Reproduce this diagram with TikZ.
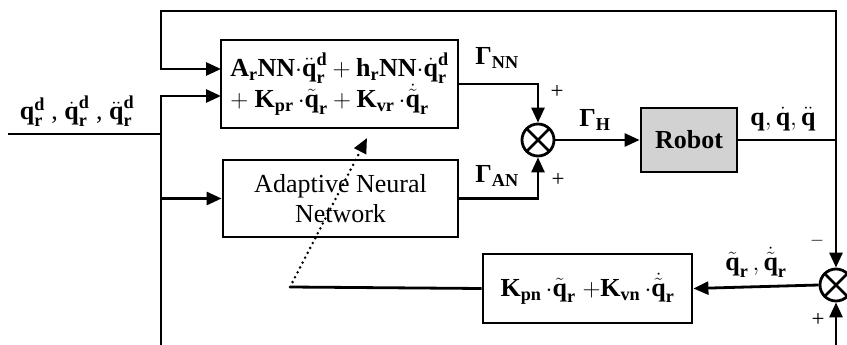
\documentclass[tikz,border=0pt]{standalone}
\usepackage{amsmath}
\usepackage{fontspec}
\setmainfont{Liberation Serif}
\usetikzlibrary{arrows.meta,calc}
\newcommand{\tb}[1]{\text{\bfseries #1}}
\newcommand{\cd}{{\cdot}}
\begin{document}
\begin{tikzpicture}[x=1pt,y=-1pt,
  font=\fontsize{26}{30}\selectfont,
  line width=2.8pt,
  arr/.style={-{Triangle[length=15pt,width=13pt]}},
  blk/.style={draw, rectangle, inner sep=0pt},
  sumj/.style={draw, circle, minimum size=32pt, inner sep=0pt,
    path picture={\draw[line width=2.8pt]
      (path picture bounding box.north west) -- (path picture bounding box.south east)
      (path picture bounding box.north east) -- (path picture bounding box.south west);}},
  lbl/.style={inner sep=0pt},
  sgn/.style={inner sep=0pt, font=\fontsize{23}{26}\selectfont}]
\useasboundingbox (0,0) rectangle (847,345);

% blocks
\node[blk, minimum width=237pt, minimum height=88pt, align=left] (nn) at (339.5,84)
  {$\tb{A}_{\tb{r}}\tb{NN}\cd\ddot{\tb{q}}_{\tb{r}}^{\tb{d}} + \tb{h}_{\tb{r}}\tb{NN}\cd\dot{\tb{q}}_{\tb{r}}^{\tb{d}}$\\
   $+\ \tb{K}_{\tb{pr}}\,\cd\tilde{\tb{q}}_{\tb{r}} + \tb{K}_{\tb{vr}}\,\cd\dot{\tilde{\tb{q}}}_{\tb{r}}$};
\node[blk, minimum width=235pt, minimum height=77pt, align=center] (ann) at (340.5,198.5)
  {Adaptive Neural\\Network};
\node[blk, fill=gray!35, minimum width=96pt, minimum height=64pt, font=\fontsize{26}{30}\selectfont\bfseries] (robot) at (689,140) {Robot};
\node[blk, minimum width=209pt, minimum height=69pt] (kpn) at (587.5,288.5)
  {$\tb{K}_{\tb{pn}}\,\cd\tilde{\tb{q}}_{\tb{r}}\;{+}\tb{K}_{\tb{vn}}\,\cd\dot{\tilde{\tb{q}}}_{\tb{r}}$};
\node[sumj] (s1) at (538,140) {};
\node[sumj] (s2) at (836,285) {};

% coordinates
\coordinate (in0) at (8,134);
\coordinate (inj) at (161,134);
\coordinate (bot) at (161,345);
\coordinate (nnin2) at (221,96);
\coordinate (nnin1) at (221,69);
\coordinate (tl) at (161,11);
\coordinate (outj) at (836,140);
\coordinate (botr) at (836,345);
\coordinate (dl) at (290,287);
\coordinate (tip) at (367,138);

% connectors
\draw (in0) -- (inj);
\draw[arr] (bot) |- (nnin2);
\draw[arr] (inj) |- (ann.west);
\draw[arr] (outj) |- (tl) |- (nnin1);
\draw[arr] (nn.east) -| (s1.north);
\draw[arr] (ann.east) -| (s1.south);
\draw[arr] (s1.east) -- (robot.west);
\draw (robot.east) -- (outj);
\draw[arr] (outj) -- (s2.north);
\draw[arr] (botr) -- (s2.south);
\draw[arr] (s2.west) -- (kpn.east);
\draw (kpn.west) -- (dl);
\draw[arr, line width=2.8pt, line cap=round, dash pattern=on 0pt off 5.5pt] (dl) -- (tip);

% labels
\node[lbl] (lin) at (77,111) {$\tb{q}_{\tb{r}}^{\tb{d}}$ , $\dot{\tb{q}}_{\tb{r}}^{\tb{d}}$ , $\ddot{\tb{q}}_{\tb{r}}^{\tb{d}}$};
\node[lbl] (gnn) at (497,58) {$\tb{Γ}_{\tb{NN}}$};
\node[lbl] (gan) at (497,176) {$\tb{Γ}_{\tb{AN}}$};
\node[lbl] (gh) at (595,120) {$\tb{Γ}_{\tb{H}}$};
\node[lbl] (lout) at (783,119) {$\tb{q},\dot{\tb{q}},\ddot{\tb{q}}$};
\node[lbl] (lerr) at (756,262) {$\tilde{\tb{q}}_{\tb{r}}\,,\dot{\tilde{\tb{q}}}_{\tb{r}}$};
\node[sgn] (p1) at (557,92) {+};
\node[sgn] (p2) at (558,180) {+};
\node[sgn, text=gray!70!black] (m3) at (817,244) {−};
\node[sgn] (p4) at (818,320) {+};
\end{tikzpicture}
\end{document}
